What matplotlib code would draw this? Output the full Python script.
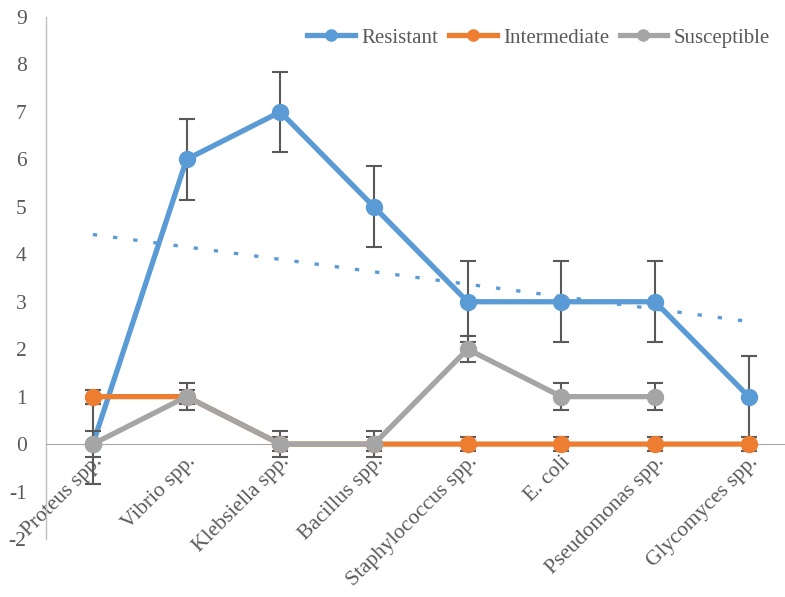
import numpy as np
import matplotlib
matplotlib.use("Agg")
import matplotlib.pyplot as plt

categories = ["Proteus spp.", "Vibrio spp.", "Klebsiella spp.", "Bacillus spp.",
              "Staphylococcus spp.", "E. coli", "Pseudomonas spp.", "Glycomyces spp."]
resistant = [0, 6, 7, 5, 3, 3, 3, 1]
intermediate = [1, 1, 0, 0, 0, 0, 0, 0]
susceptible = [0, 1, 0, 0, 2, 1, 1, np.nan]
err_resistant = 0.85
err_intermediate = 0.15
err_susceptible = 0.28

plt.rcParams['font.family'] = ['Liberation Serif', 'DejaVu Serif']
plt.rcParams['axes.unicode_minus'] = False
TXT = '#595959'

fig = plt.figure(figsize=(7.85, 5.97), dpi=100)
ax = fig.add_axes([46/785, 58/597, (785-46)/785, (539-17)/597])

x = np.arange(1, len(categories) + 1)

series = [
    ("Resistant", resistant, err_resistant, '#5B9BD5'),
    ("Intermediate", intermediate, err_intermediate, '#ED7D31'),
    ("Susceptible", susceptible, err_susceptible, '#A5A5A5'),
]

for s in ['top', 'right']:
    ax.spines[s].set_visible(False)
ax.spines['bottom'].set_position(('data', 0))
ax.spines['bottom'].set_color('#a6a6a6')
ax.spines['left'].set_color('#bfbfbf')
ax.spines['left'].set_linewidth(1)

z = 3
for name, vals, err, col in series:
    v = np.array(vals, dtype=float)
    m = ~np.isnan(v)
    ax.errorbar(x[m], v[m], yerr=err, fmt='none', ecolor='#595959',
                elinewidth=1.5, capsize=6, capthick=1.5, zorder=z)
    ax.plot(x[m], v[m], color=col, lw=3.8, marker='o', markersize=11.5,
            markeredgecolor=col, label=name, zorder=z + 1)
    z += 2

# linear trendline of Resistant
coef = np.polyfit(x, resistant, 1)
ax.plot(x, np.polyval(coef, x), color='#5B9BD5', lw=2.4,
        linestyle=(0, (1.3, 4.8)), zorder=2)

ax.set_xlim(0.5, 0.5 + (785-46)/93.7)
ax.set_ylim(-2, 9)
ax.set_yticks(range(-2, 10))
ax.set_xticks(x)
ax.set_xticklabels(categories, rotation=45, ha='right', va='top',
                   rotation_mode='anchor')

ax.tick_params(axis='both', length=0, labelsize=15.5, labelcolor=TXT)
ax.tick_params(axis='y', pad=14)
ax.tick_params(axis='x', pad=6)

leg = ax.legend(loc='upper right', bbox_to_anchor=(1.005, 1.015), ncol=3,
                frameon=False, fontsize=15, handlelength=2.3,
                columnspacing=0.5, handletextpad=0.3, labelcolor=TXT,
                markerscale=0.7)

fig.savefig("out.png", dpi=100)
